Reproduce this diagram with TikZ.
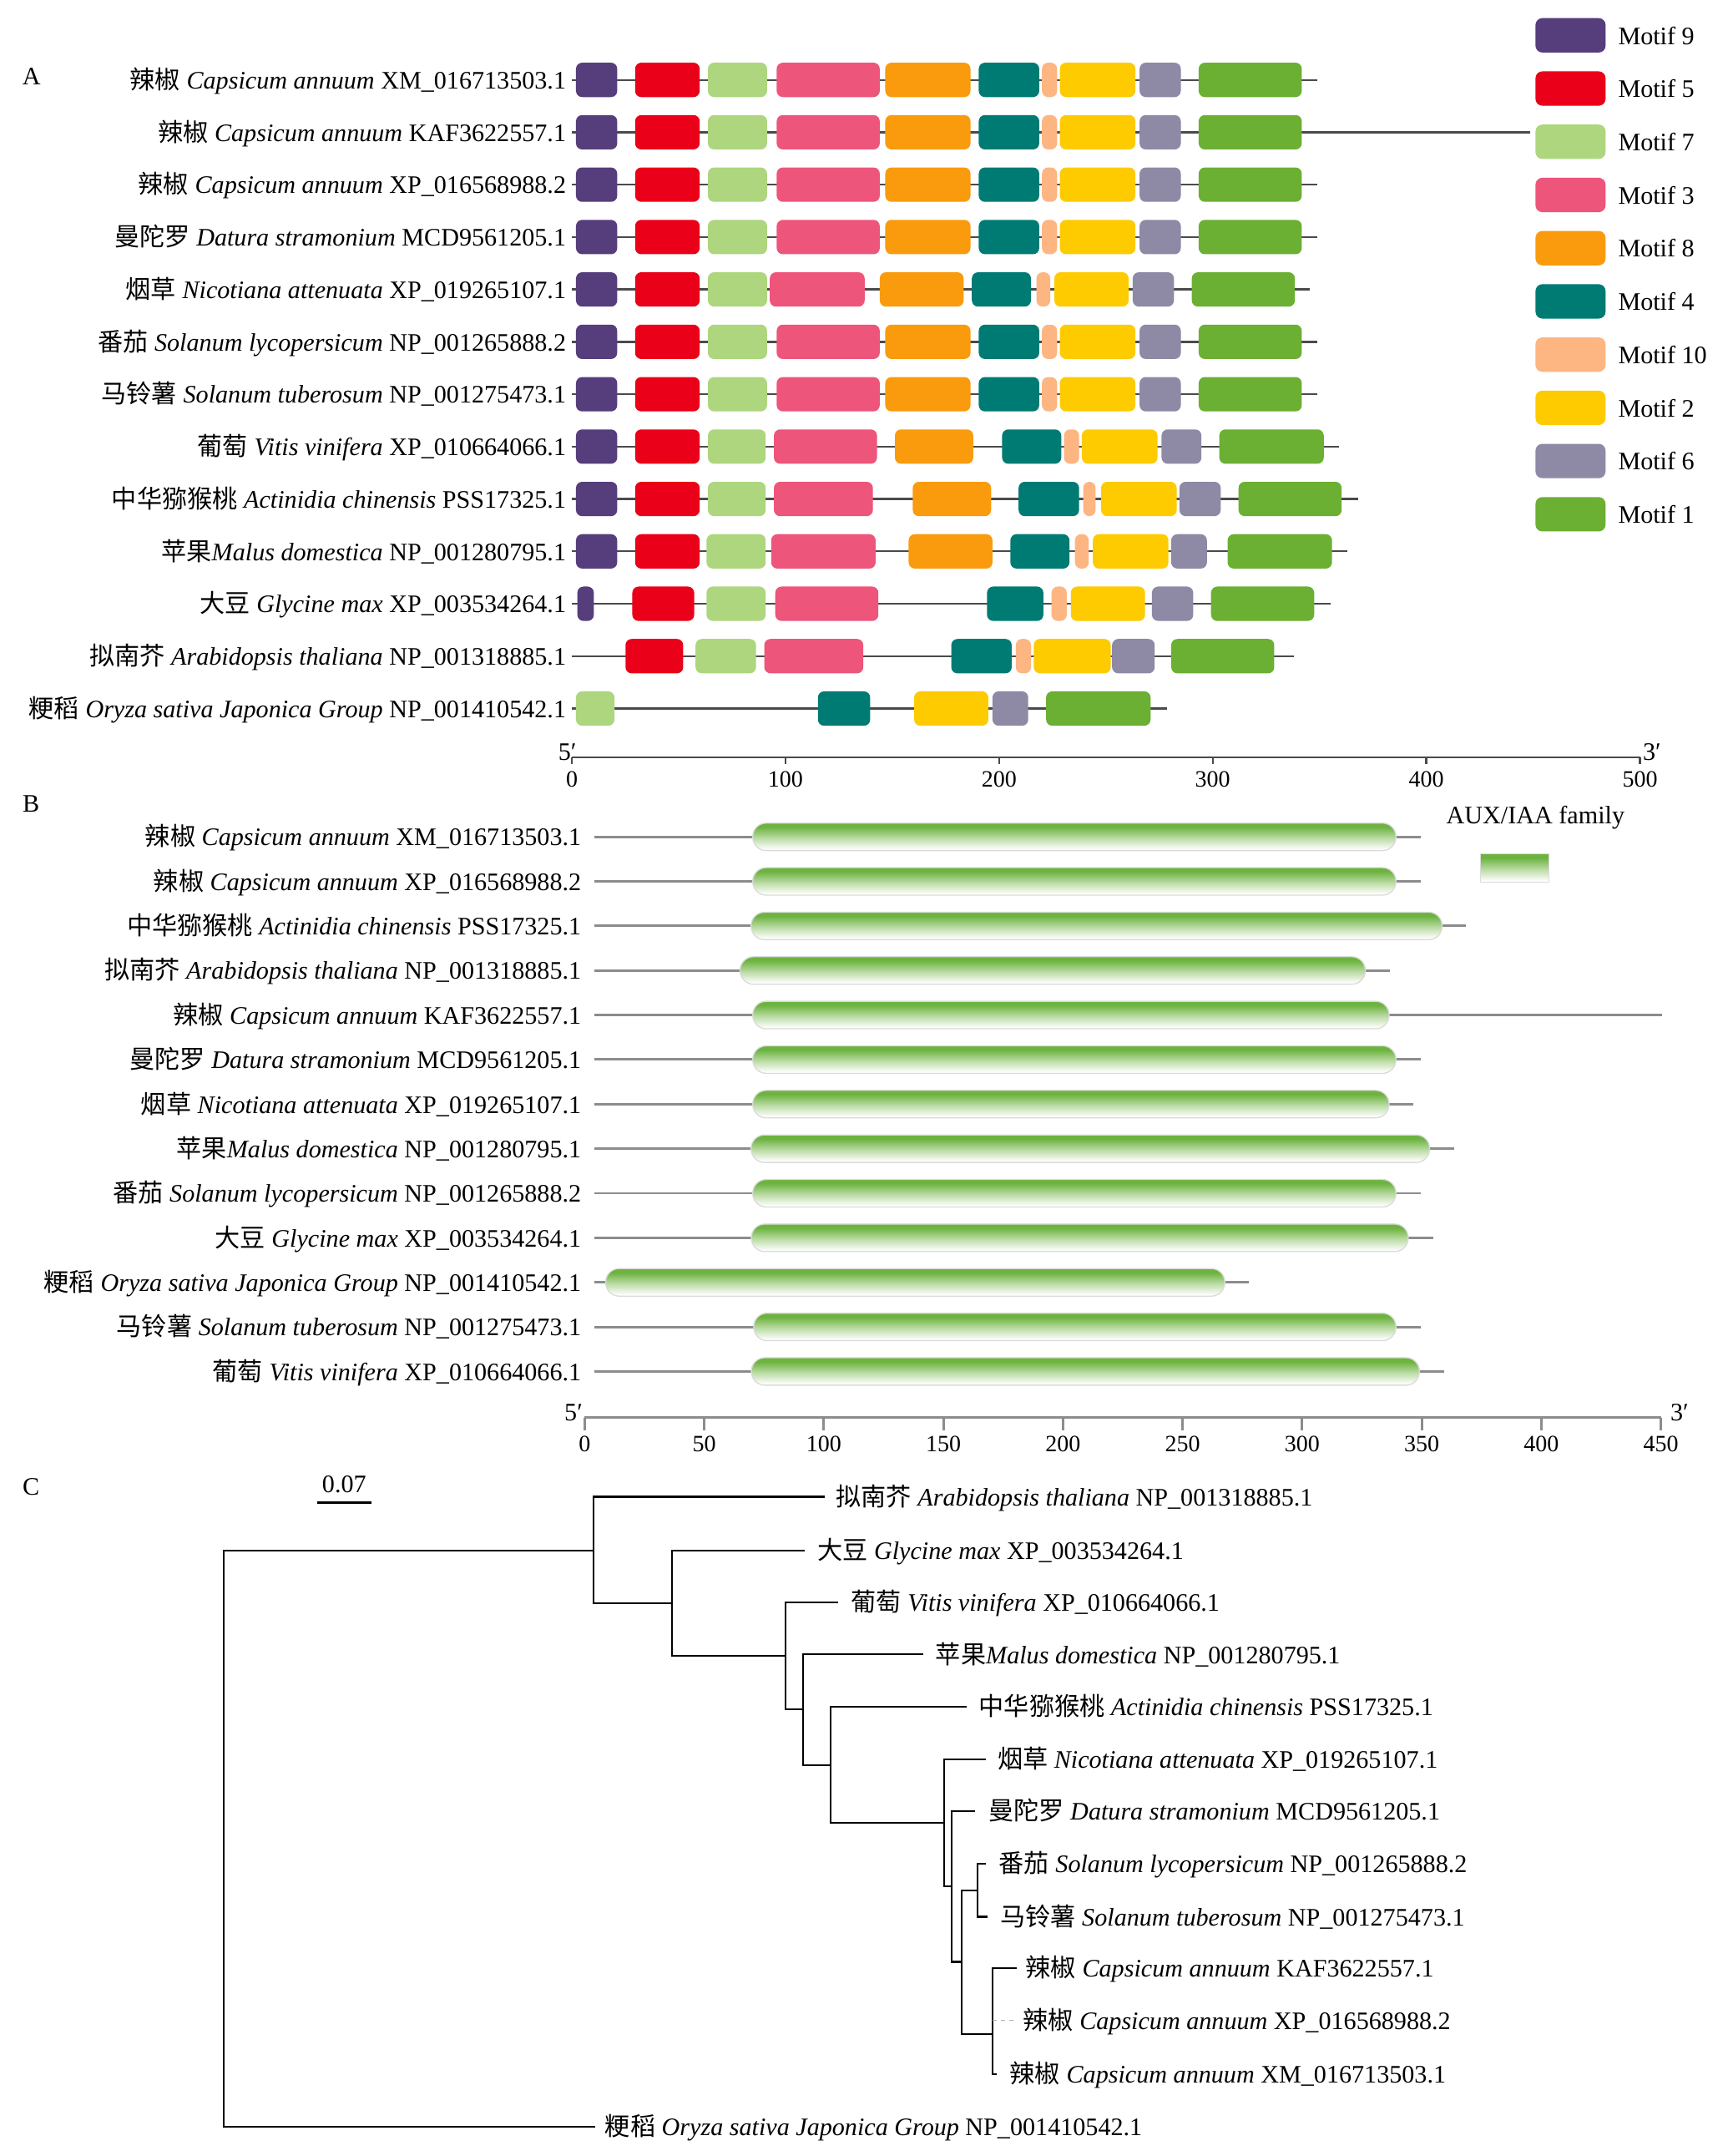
\documentclass[tikz,border=0pt]{standalone}
\usepackage{fontspec}
\setmainfont{Liberation Serif}
\newfontfamily\cjk{Noto Sans CJK SC}
\definecolor{m9}{HTML}{563D7C}
\definecolor{m5}{HTML}{EA0018}
\definecolor{m7}{HTML}{ADD67E}
\definecolor{m3}{HTML}{EE557B}
\definecolor{m8}{HTML}{F99B0D}
\definecolor{m4}{HTML}{007B73}
\definecolor{m10}{HTML}{FDB582}
\definecolor{m2}{HTML}{FDCB00}
\definecolor{m6}{HTML}{8E89A5}
\definecolor{m1}{HTML}{6BAF33}
\definecolor{lineA}{HTML}{4A4A4A}
\definecolor{lineB}{HTML}{8C8C8C}
\definecolor{barg}{HTML}{6DB33F}
\pgfdeclareverticalshading{barshade}{100bp}{color(0bp)=(white); color(27bp)=(white); color(47bp)=(barg!45); color(68bp)=(barg); color(100bp)=(barg)}
\newcommand\zh[1]{{\cjk #1}}
\newcommand\fsz{\fontsize{18.3}{20}\selectfont}
\newcommand\fszt{\fontsize{17}{19}\selectfont}
\newcommand\motboxes[2]{\foreach \c/\a/\b in #2 {\fill[\c, rounded corners=4.5pt] (\a,#1-12.5) rectangle (\b,#1+12.5);}}
\def\stdlist{m9/419/449,m5/462/509,m7/515/558,m3/565/640,m8/644/706,m4/712/756,m10/758/769,m2/771/826,m6/829/859,m1/872/947}
\newcommand\bbar[4]{%
  \draw[bline] (432.6,#1) -- (#4,#1);
  \shade[shading=barshade, rounded corners=9.8pt] (#2,#1-10) rectangle (#3,#1+10);
  \draw[barout, rounded corners=9.8pt] (#2,#1-10) rectangle (#3,#1+10);}
\tikzset{
  aline/.style={draw=lineA, line width=1.4pt},
  bline/.style={draw=lineB, line width=1.8pt},
  barout/.style={draw=black!14, line width=0.8pt},
  treeline/.style={draw=black, line width=1.3pt},
  lab/.style={font=\fsz, inner sep=0pt, anchor=base east},
  tlab/.style={font=\fsz, inner sep=0pt, anchor=base west},
  tick/.style={font=\fszt, inner sep=0pt, anchor=base},
}
\def\LXM{\zh{辣椒} \textit{Capsicum annuum} XM\_016713503.1}
\def\LKAF{\zh{辣椒} \textit{Capsicum annuum} KAF3622557.1}
\def\LXP{\zh{辣椒} \textit{Capsicum annuum} XP\_016568988.2}
\def\LDat{\zh{曼陀罗} \textit{Datura stramonium} MCD9561205.1}
\def\LNic{\zh{烟草} \textit{Nicotiana attenuata} XP\_019265107.1}
\def\LTom{\zh{番茄} \textit{Solanum lycopersicum} NP\_001265888.2}
\def\LPot{\zh{马铃薯} \textit{Solanum tuberosum} NP\_001275473.1}
\def\LVit{\zh{葡萄} \textit{Vitis vinifera} XP\_010664066.1}
\def\LAct{\zh{中华猕猴桃} \textit{Actinidia chinensis} PSS17325.1}
\def\LMal{\zh{苹果}\textit{Malus domestica} NP\_001280795.1}
\def\LGly{\zh{大豆} \textit{Glycine max} XP\_003534264.1}
\def\LAra{\zh{拟南芥} \textit{Arabidopsis thaliana} NP\_001318885.1}
\def\LOry{\zh{粳稻} \textit{Oryza sativa Japonica Group} NP\_001410542.1}
\begin{document}
\begin{tikzpicture}[x=1pt,y=-1pt]
\useasboundingbox (0,0) rectangle (1257,1568);
\fill[white] (0,0) rectangle (1257,1568);
% ---------------- Panel A ----------------
\node[font=\fsz, inner sep=0pt, anchor=base] (pA) at (23,61.8) {A};
% rows
\draw[aline] (416,58.1) -- (958,58.1);   \motboxes{58.1}{\stdlist}
\draw[aline] (416,96.2) -- (1113,96.2);  \motboxes{96.2}{\stdlist}
\draw[aline] (416,134.3) -- (958,134.3); \motboxes{134.3}{\stdlist}
\draw[aline] (416,172.4) -- (958,172.4); \motboxes{172.4}{\stdlist}
\draw[aline] (416,210.5) -- (953,210.5); \motboxes{210.5}{{m9/419/449,m5/462/509,m7/515/558,m3/560/629,m8/640/701,m4/707/750,m10/754/764,m2/767/821,m6/824/854,m1/867/942}}
\draw[aline] (416,248.6) -- (958,248.6); \motboxes{248.6}{\stdlist}
\draw[aline] (416,286.7) -- (958,286.7); \motboxes{286.7}{\stdlist}
\draw[aline] (416,324.8) -- (974,324.8); \motboxes{324.8}{{m9/419/449,m5/462/509,m7/515/557,m3/563/638,m8/651/708,m4/729/772,m10/774/785,m2/787/842,m6/845/874,m1/887/963}}
\draw[aline] (416,362.9) -- (988,362.9); \motboxes{362.9}{{m9/419/449,m5/462/509,m7/515/557,m3/563/635,m8/664/721,m4/741/785,m10/788/797,m2/801/856,m6/858/888,m1/901/976}}
\draw[aline] (416,401) -- (980,401);     \motboxes{401}{{m9/419/449,m5/462/509,m7/514/557,m3/561/637,m8/661/722,m4/735/778,m10/782/792,m2/795/850,m6/852/878,m1/893/969}}
\draw[aline] (416,439.1) -- (968,439.1); \motboxes{439.1}{{m9/420/432,m5/460/505,m7/514/557,m3/564/639,m4/718/759,m10/765/776,m2/779/833,m6/838/868,m1/881/956}}
\draw[aline] (416,477.2) -- (941,477.2); \motboxes{477.2}{{m5/455/497,m7/506/550,m3/556/628,m4/692/736,m10/739/750,m2/752/808,m6/809/840,m1/852/927}}
\draw[aline] (416,515.3) -- (849,515.3); \motboxes{515.3}{{m7/419/447,m4/595/633,m2/665/719,m6/722/748,m1/761/837}}
% labels
\node[lab] (a1) at (412,64.6) {\LXM};
\node[lab] (a2) at (412,102.7) {\LKAF};
\node[lab] (a3) at (412,140.8) {\LXP};
\node[lab] (a4) at (412,178.9) {\LDat};
\node[lab] (a5) at (412,217) {\LNic};
\node[lab] (a6) at (412,255.1) {\LTom};
\node[lab] (a7) at (412,293.2) {\LPot};
\node[lab] (a8) at (412,331.3) {\LVit};
\node[lab] (a9) at (412,369.4) {\LAct};
\node[lab] (a10) at (412,407.5) {\LMal};
\node[lab] (a11) at (412,445.6) {\LGly};
\node[lab] (a12) at (412,483.7) {\LAra};
\node[lab] (a13) at (412,521.8) {\LOry};
% axis A
\draw[aline] (416,551) -- (1193,551);
\foreach \k in {0,...,5} {
  \draw[aline] (416+155.4*\k,551) -- (416+155.4*\k,555.5);
  \pgfmathtruncatemacro\v{100*\k}
  \node[tick] (ta\k) at (416+155.4*\k,572.5) {\v};
}
\node[font=\fsz, inner sep=0pt, anchor=base east] (a5p) at (419.5,553) {5′};
\node[font=\fsz, inner sep=0pt, anchor=base west] (a3p) at (1195,553) {3′};
% legend A
\foreach \c/\t [count=\i from 0] in {m9/9,m5/5,m7/7,m3/3,m8/8,m4/4,m10/10,m2/2,m6/6,m1/1} {
  \fill[\c, rounded corners=5pt] (1117,25.7+38.7*\i-12.5) rectangle (1168,25.7+38.7*\i+12.5);
  \node[tlab] (leg\i) at (1177,25.7+38.7*\i+6.5) {Motif \t};
}
% ---------------- Panel B ----------------
\node[font=\fsz, inner sep=0pt, anchor=base] (pB) at (22.5,590.5) {B};
\bbar{608.6}{547.6}{1015.5}{1033.3}
\bbar{641}{547.6}{1015.5}{1033.3}
\bbar{673.4}{546.4}{1049.1}{1066.3}
\bbar{705.8}{538.4}{993.2}{1011}
\bbar{738.2}{547.6}{1010.5}{1208.8}
\bbar{770.6}{547.6}{1015.5}{1033.3}
\bbar{803}{547.6}{1010.5}{1028.2}
\bbar{835.4}{546.4}{1040}{1058}
\bbar{867.8}{547.6}{1015.5}{1033.3}
\bbar{900.2}{546.6}{1024.4}{1042.5}
\bbar{932.6}{440.6}{891}{908.3}
\bbar{965}{548.3}{1015.5}{1033.3}
\bbar{997.4}{546.6}{1032.6}{1050.5}
\node[lab] (b1) at (423,615.1) {\LXM};
\node[lab] (b2) at (423,647.5) {\LXP};
\node[lab] (b3) at (423,679.9) {\LAct};
\node[lab] (b4) at (423,712.3) {\LAra};
\node[lab] (b5) at (423,744.7) {\LKAF};
\node[lab] (b6) at (423,777.1) {\LDat};
\node[lab] (b7) at (423,809.5) {\LNic};
\node[lab] (b8) at (423,841.9) {\LMal};
\node[lab] (b9) at (423,874.3) {\LTom};
\node[lab] (b10) at (423,906.7) {\LGly};
\node[lab] (b11) at (423,939.1) {\LOry};
\node[lab] (b12) at (423,971.5) {\LPot};
\node[lab] (b13) at (423,1003.9) {\LVit};
% axis B
\draw[bline] (425.3,1031) -- (1208.3,1031);
\foreach \k in {0,...,9} {
  \draw[bline] (425.3+87*\k,1031) -- (425.3+87*\k,1040);
  \pgfmathtruncatemacro\v{50*\k}
  \node[tick] (tb\k) at (425.3+87*\k,1056) {\v};
}
\node[font=\fsz, inner sep=0pt, anchor=base east] (b5p) at (424,1033) {5′};
\node[font=\fsz, inner sep=0pt, anchor=base west] (b3p) at (1215,1033) {3′};
% legend B
\node[font=\fsz, inner sep=0pt, anchor=base] (legB) at (1117,599.3) {AUX/IAA family};
\shade[shading=barshade] (1077,621) rectangle (1127,641.6);
\draw[barout] (1077,621) rectangle (1127,641.6);
% ---------------- Panel C ----------------
\node[font=\fsz, inner sep=0pt, anchor=base] (pC) at (22.5,1087.5) {C};
\draw[draw=black, line width=2pt] (231,1093) -- (270,1093);
\node[font=\fsz, inner sep=0pt, anchor=base] (scale) at (250.4,1085.5) {0.07};
% internal nodes
\coordinate (R) at (162.6,1337);
\coordinate (NA) at (431.6,1127.6);
\coordinate (NB) at (488.6,1166);
\coordinate (NC) at (571.6,1204.3);
\coordinate (ND) at (584.1,1243.3);
\coordinate (NE) at (604.4,1283.8);
\coordinate (NF) at (686.9,1325.6);
\coordinate (NG) at (692.4,1371.8);
\coordinate (NH) at (699.5,1426.8);
\coordinate (NS) at (711.2,1374.8);
\coordinate (NK) at (722.3,1479.4);
% leaf ends
\coordinate (eAra) at (599.9,1088.5);
\coordinate (eGly) at (585.7,1127.6);
\coordinate (eVit) at (610,1165.4);
\coordinate (eMal) at (671.7,1203.2);
\coordinate (eAct) at (703,1241.3);
\coordinate (eNic) at (717.2,1279.7);
\coordinate (eDat) at (709.2,1317.2);
\coordinate (eTom) at (717.2,1355.6);
\coordinate (ePot) at (718.3,1394);
\coordinate (eKAF) at (739.5,1431.5);
\coordinate (eXP) at (739.5,1469.3);
\coordinate (eXM) at (725.3,1508.3);
\coordinate (eOry) at (433,1546.5);
% branches
\draw[treeline] (R) |- (NA);
\draw[treeline] (R) |- (eOry);
\draw[treeline] (NA) |- (eAra);
\draw[treeline] (NA) |- (NB);
\draw[treeline] (NB) |- (eGly);
\draw[treeline] (NB) |- (NC);
\draw[treeline] (NC) |- (eVit);
\draw[treeline] (NC) |- (ND);
\draw[treeline] (ND) |- (eMal);
\draw[treeline] (ND) |- (NE);
\draw[treeline] (NE) |- (eAct);
\draw[treeline] (NE) |- (NF);
\draw[treeline] (NF) |- (eNic);
\draw[treeline] (NF) |- (NG);
\draw[treeline] (NG) |- (eDat);
\draw[treeline] (NG) |- (NH);
\draw[treeline] (NH) |- (NS);
\draw[treeline] (NH) |- (NK);
\draw[treeline] (NS) |- (eTom);
\draw[treeline] (NS) |- (ePot);
\draw[treeline] (NK) |- (eKAF);
\draw[treeline] (NK) |- (eXM);
\draw[draw=black!30, line width=1pt, dash pattern=on 3pt off 3pt] (NK |- eXP) -- (eXP);
% leaf labels
\node[tlab] (cAra) at (608,1095) {\LAra};
\node[tlab] (cGly) at (594.5,1134.1) {\LGly};
\node[tlab] (cVit) at (619,1171.9) {\LVit};
\node[tlab] (cMal) at (680.5,1209.7) {\LMal};
\node[tlab] (cAct) at (712,1247.8) {\LAct};
\node[tlab] (cNic) at (725.5,1286.2) {\LNic};
\node[tlab] (cDat) at (719,1323.7) {\LDat};
\node[tlab] (cTom) at (726.5,1362.1) {\LTom};
\node[tlab] (cPot) at (727.5,1400.5) {\LPot};
\node[tlab] (cKAF) at (746,1438) {\LKAF};
\node[tlab] (cXP) at (744,1475.8) {\LXP};
\node[tlab] (cXM) at (734.5,1514.8) {\LXM};
\node[tlab] (cOry) at (440,1553) {\LOry};
\end{tikzpicture}
\end{document}
